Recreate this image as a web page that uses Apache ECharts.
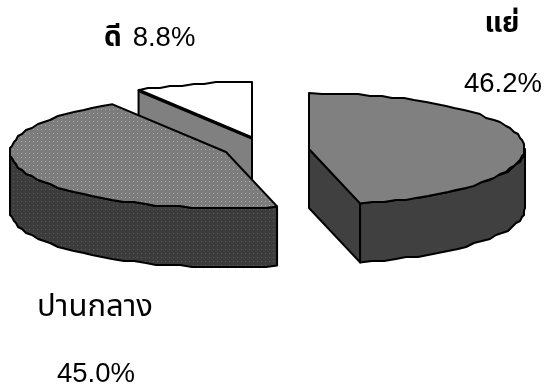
<!DOCTYPE html>
<html>
<head>
<meta charset="utf-8">
<style>html,body{margin:0;padding:0;background:#fff}#chart{width:546px;height:389px}</style>
<script src="https://cdn.jsdelivr.net/npm/echarts@6/dist/echarts.min.js"></script>
</head>
<body>
<div id="chart"></div>
<script>
// Share of answers per rating, clockwise from twelve o'clock.
const categories = ['แย่', 'ปานกลาง', 'ดี'];
const shares = [46.2, 45.0, 8.8];

// Pie geometry: an exploded, tilted disc with a visible rim.
const RX = 216, RY = 56, DEPTH = 59, STEP = 2;
const hubs = [[309, 149], [226, 152], [252, 138]];
const drawOrder = [2, 0, 1];
const FONT = '"Liberation Sans", Arial, "Noto Sans Thai", "Noto Sans", sans-serif';
const THAI_BOLD = 'bold 28px ' + FONT;
const THAI_PLAIN = '31px ' + FONT;
const PCT = '27.5px ' + FONT;

// Small dot screen used on the middle slice.
function dotted(bg, dot) {
  const c = document.createElement('canvas');
  c.width = c.height = 4;
  const g = c.getContext('2d');
  g.fillStyle = bg; g.fillRect(0, 0, 4, 4);
  g.fillStyle = dot; g.fillRect(1, 1, 1, 1);
  return { image: c, repeat: 'repeat' };
}
const looks = [
  { top: '#808080', rim: '#404040', inner: '#404040' },
  { top: dotted('#7c7c7c', '#a8a8a8'), rim: dotted('#3c3c3c', '#5c5c5c'), inner: '#404040' },
  { top: '#ffffff', rim: '#808080', inner: '#808080' }
];

// Slice boundaries as fractions of a turn.
const bounds = [];
shares.reduce((sum, v, i) => { bounds[i] = [sum, sum + v]; return sum + v; }, 0);
const total = shares.reduce((a, b) => a + b, 0);

function rimPoint(hub, pct) {
  const a = pct / total * 2 * Math.PI;
  return [hub[0] + RX * Math.sin(a), hub[1] - RY * Math.cos(a)];
}
// Arc outline as short straight runs snapped to a coarse grid, like a low-resolution metafile.
function arc(hub, from, to) {
  const pts = [], n = Math.max(6, Math.round((to - from) * 1.1));
  for (let k = 0; k <= n; k++) {
    const p = rimPoint(hub, from + (to - from) * k / n);
    pts.push(k === 0 || k === n ? p : [Math.round(p[0] / STEP) * STEP, Math.round(p[1] / STEP) * STEP]);
  }
  return pts;
}
function drop(pts) { return pts.map(p => [p[0], p[1] + DEPTH]); }

const edge = { stroke: '#000', lineWidth: 2, lineJoin: 'round' };

function sliceShapes(i) {
  const hub = hubs[i], [from, to] = bounds[i], look = looks[i], out = [];
  const top = arc(hub, from, to);
  const poly = (points, fill, extra) => out.push({
    type: 'polygon', shape: { points },
    style: Object.assign({ fill }, edge, extra || {})
  });
  if (i === 2) {
    // Back slice: the cut face towards the viewer is what shows below its top.
    const far = top[0];
    poly([far, hub, [hub[0], hub[1] + DEPTH], [far[0], far[1] + DEPTH]], look.inner);
    out.push({ type: 'polygon', shape: { points: [hub].concat(top) }, style: Object.assign({ fill: look.top }, edge) });
    out.push({ type: 'line', shape: { x1: far[0], y1: far[1], x2: hub[0], y2: hub[1] }, style: { stroke: '#000', lineWidth: 3.5 } });
    return out;
  }
  if (i === 0) {
    // Left-hand cut face plus the outer rim.
    const end = top[top.length - 1];
    poly([hub, end, [end[0], end[1] + DEPTH], [hub[0], hub[1] + DEPTH]], look.inner);
    const vis = arc(hub, total * 0.25, to);
    poly(vis.concat(drop(vis).reverse()), look.rim);
  } else {
    const vis = arc(hub, from, total * 0.75);
    poly(vis.concat(drop(vis).reverse()), look.rim);
  }
  poly([hub].concat(top), look.top);
  return out;
}

const labelRows = [
  { i: 0, name: [502, 24], pct: [503, 84] },
  { i: 1, name: [95, 307], pct: [96, 374] },
];

function labelShapes(i) {
  const text = (t, pos, font, align) => ({
    type: 'text',
    style: { text: t, x: pos[0], y: pos[1], font, fill: '#000', align: align || 'center', verticalAlign: 'middle' }
  });
  const pctText = shares[i].toFixed(1) + '%';
  if (i === 2) {
    return [text(categories[2], [113, 38], THAI_BOLD), text(pctText, [164, 38], PCT)];
  }
  const r = labelRows[i];
  const nameFont = i === 0 ? THAI_BOLD : THAI_PLAIN;
  return [text(categories[i], r.name, nameFont), text(pctText, r.pct, PCT)];
}

const chart = echarts.init(document.getElementById('chart'), null, { renderer: 'canvas' });
chart.setOption({
  animation: false,
  backgroundColor: '#fff',
  series: [{
    type: 'custom',
    coordinateSystem: 'none',
    silent: true,
    data: drawOrder.map(i => ({ value: [i, shares[i]], name: categories[i] })),
    renderItem: (params, api) => {
      const i = api.value(0);
      return { type: 'group', children: sliceShapes(i).concat(labelShapes(i)) };
    }
  }]
});
</script>
</body>
</html>
